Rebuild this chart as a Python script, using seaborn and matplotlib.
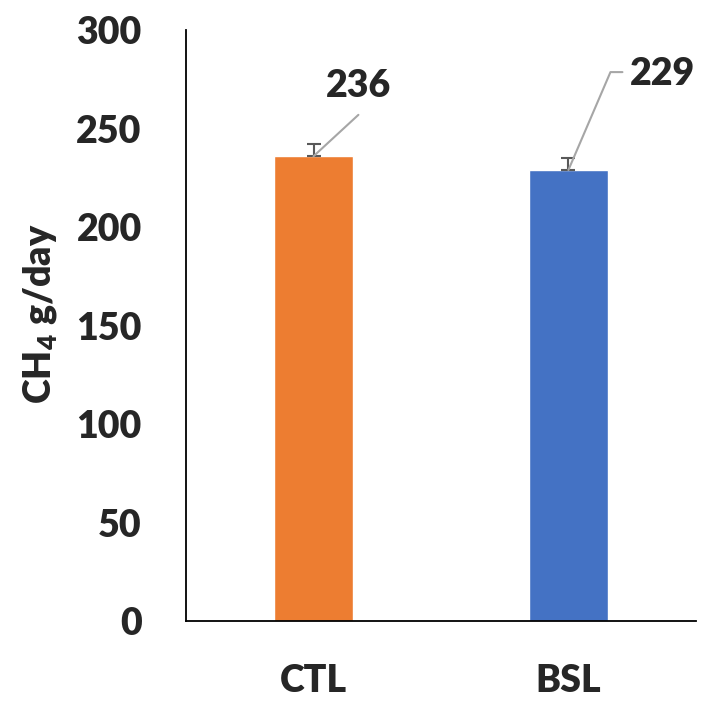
import matplotlib
matplotlib.use("Agg")
import matplotlib.pyplot as plt
import seaborn as sns
import pandas as pd

groups = ["CTL", "BSL"]
ch4 = [236, 229]
ch4_err = [6, 6]
bar_colors = ["#ED7D31", "#4472C4"]

W = "heavy"
sns.set_theme(style="white")
plt.rcParams["font.family"] = ["Lato", "DejaVu Sans"]
plt.rcParams["mathtext.fontset"] = "custom"
plt.rcParams["mathtext.rm"] = "Lato:heavy"
plt.rcParams["mathtext.bf"] = "Lato:heavy"

df = pd.DataFrame({"group": groups, "ch4": ch4})

fig = plt.figure(figsize=(7.05, 7.01), dpi=100)
ax = fig.add_axes([0.264, 0.114, 0.723, 0.843])
sns.barplot(data=df, x="group", y="ch4", hue="group", palette=bar_colors,
            width=0.31, legend=False, ax=ax, saturation=1)

# upper-only error bars
ax.errorbar(range(len(groups)), ch4, yerr=[[0, 0], ch4_err], fmt="none",
            ecolor="#595959", elinewidth=1.5, capsize=5, capthick=1.5)

# value labels with leader lines
lc = "#A6A6A6"
ax.plot([0, 0.176], [ch4[0], 257], color=lc, lw=1.5, clip_on=False)
ax.text(0.176, 271.5, str(ch4[0]), ha="center", va="center",
        fontsize=27, fontweight=W)
ax.plot([1, 1.165, 1.212], [ch4[1], 278.7, 278.7], color=lc, lw=1.5, clip_on=False)
ax.text(1.243, 277.5, str(ch4[1]), ha="left", va="center",
        fontsize=27, fontweight=W)

ax.set_ylim(0, 300)
ax.set_xlim(-0.5, 1.5)
ax.set_yticks(range(0, 301, 50))
ax.set_xlabel("")
ax.set_ylabel(r"CH$_\mathbf{4}$ g/day", fontsize=27, fontweight=W)
ax.yaxis.set_label_coords(-0.25, 0.52)
ax.tick_params(axis="both", length=0, labelsize=27)
ax.tick_params(axis="y", pad=32)
ax.tick_params(axis="x", pad=31)
for lab in ax.get_xticklabels() + ax.get_yticklabels():
    lab.set_fontweight(W)
for s in ["top", "right"]:
    ax.spines[s].set_visible(False)
for s in ["left", "bottom"]:
    ax.spines[s].set_color("black")
    ax.spines[s].set_linewidth(1.3)

fig.savefig("out.png", dpi=100)
